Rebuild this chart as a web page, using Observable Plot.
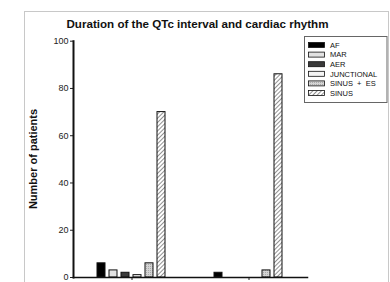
<!DOCTYPE html>
<html><head><meta charset="utf-8">
<script src="https://cdn.jsdelivr.net/npm/d3@7"></script>
<script src="https://cdn.jsdelivr.net/npm/@observablehq/plot@0.6"></script>
<style>
body{margin:0;background:#fff;}
#wrap{position:relative;width:390px;height:282px;overflow:hidden;background:#fff;font-family:"Liberation Sans",Arial,sans-serif;}
#frame{position:absolute;left:24px;top:11px;width:363px;height:300px;border:1px solid #c8c8c8;}
#chart{position:absolute;left:0;top:0;}
#over{position:absolute;left:0;top:0;}
</style>
</head><body>
<div id="wrap"><div id="frame"></div><div id="chart"></div><svg id="over" width="390" height="282"></svg></div>
<svg width="0" height="0" style="position:absolute">
<defs>
<pattern id="hatch" patternUnits="userSpaceOnUse" width="3" height="3" patternTransform="rotate(45)">
<rect width="3" height="3" fill="#fff"/><line x1="0" y1="0" x2="0" y2="3" stroke="#555" stroke-width="1.3"/>
</pattern>
<pattern id="dots" patternUnits="userSpaceOnUse" width="2" height="2">
<rect width="2" height="2" fill="#d4d4d4"/><rect width="1" height="1" fill="#aaa"/>
</pattern>
</defs></svg>
<script>
const title = "Duration of the QTc interval and cardiac rhythm";
const yLabel = "Number of patients";
const groups = ["Group 1", "Group 2"];
const rhythms = ["AF", "MAR", "AER", "JUNCTIONAL", "SINUS  +  ES", "SINUS"];
const group1 = [6, 3, 2, 1, 6, 70];
const group2 = [2, 0, 0, 0, 3, 86];
const yTicks = [0, 20, 40, 60, 80, 100];
const fills = ["#000", "#e2e2e2", "#3a3a3a", "#f4f4f4", "url(#dots)", "url(#hatch)"];

const data = [];
[group1, group2].forEach((vals, gi) => vals.forEach((n, ri) => {
  if (n > 0) data.push({group: groups[gi], rhythm: rhythms[ri], n});
}));

const plot = Plot.plot({
  width: 390, height: 300,
  marginLeft: 61, marginRight: 71, marginTop: 40.7, marginBottom: 23,
  style: {background: "transparent", fontFamily: "'Liberation Sans', Arial, sans-serif", fontSize: "9px", color: "#222"},
  fx: {domain: groups, paddingInner: 0, paddingOuter: 0.1025, label: null, axis: "bottom", tickSize: 3, tickFormat: () => ""},
  x: {domain: rhythms, paddingInner: 0.333, paddingOuter: 2.04, axis: null},
  y: {domain: [0, 100], ticks: yTicks, tickSize: 3, tickPadding: 2, label: null},
  color: {domain: rhythms, range: fills},
  marks: [
    Plot.barY(data, {fx: "group", x: "rhythm", y: "n", fill: "rhythm", stroke: "#111", strokeWidth: 1}),
    Plot.frame({anchor: "left", facet: "super", stroke: "#111", strokeWidth: 2}),
    Plot.frame({anchor: "bottom", facet: "super", stroke: "#111", strokeWidth: 1.5})
  ]
});
document.getElementById("chart").appendChild(plot);

const svg = d3.select("#over");
svg.append("text").attr("x", 197.5).attr("y", 27.5).attr("text-anchor", "middle")
  .attr("font-weight", "bold").attr("font-size", 11.6).attr("fill", "#111").text(title);
svg.append("text").attr("transform", "translate(36.5,159) rotate(-90)").attr("text-anchor", "middle")
  .attr("font-weight", "bold").attr("font-size", 11).attr("fill", "#111").text(yLabel);

const lg = svg.append("g");
lg.append("rect").attr("x", 304.5).attr("y", 36.5).attr("width", 82.5).attr("height", 66)
  .attr("fill", "#fff").attr("stroke", "#666");
rhythms.forEach((r, i) => {
  const cy = 45 + i * 9.6;
  lg.append("rect").attr("x", 308.5).attr("y", cy - 2.5).attr("width", 16).attr("height", 5)
    .attr("fill", fills[i]).attr("stroke", "#111").attr("stroke-width", 0.8);
  lg.append("text").attr("x", 330).attr("y", cy + 2.7).attr("font-size", 7.5).attr("fill", "#111")
    .attr("xml:space", "preserve").style("white-space", "pre").text(r);
});
</script>
</body></html>
